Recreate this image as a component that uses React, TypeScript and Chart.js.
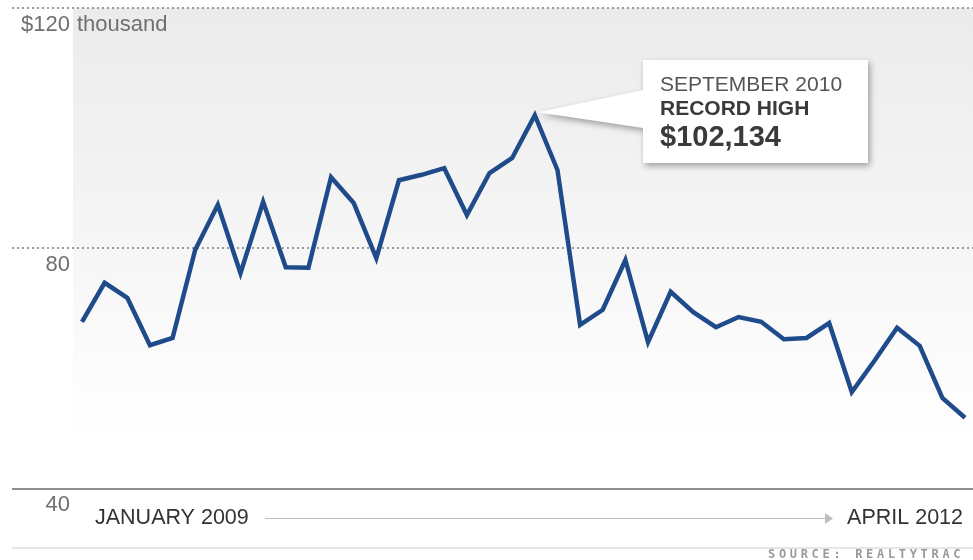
import React, { useEffect, useRef } from "react";
import { Chart, registerables } from "chart.js";

Chart.register(...registerables);

const months: string[] = [
  "Jan 2009", "Feb 2009", "Mar 2009", "Apr 2009", "May 2009", "Jun 2009",
  "Jul 2009", "Aug 2009", "Sep 2009", "Oct 2009", "Nov 2009", "Dec 2009",
  "Jan 2010", "Feb 2010", "Mar 2010", "Apr 2010", "May 2010", "Jun 2010",
  "Jul 2010", "Aug 2010", "Sep 2010", "Oct 2010", "Nov 2010", "Dec 2010",
  "Jan 2011", "Feb 2011", "Mar 2011", "Apr 2011", "May 2011", "Jun 2011",
  "Jul 2011", "Aug 2011", "Sep 2011", "Oct 2011", "Nov 2011", "Dec 2011",
  "Jan 2012", "Feb 2012", "Mar 2012", "Apr 2012",
];

// Average price, $ thousand
const prices: number[] = [
  67.7, 74.2, 71.7, 63.8, 65.0, 79.7, 87.2, 75.8, 87.7, 76.8, 76.7, 91.8,
  87.5, 78.3, 91.3, 92.2, 93.3, 85.5, 92.5, 95.0, 102.134, 93.0, 67.2, 69.7,
  78.0, 64.3, 72.7, 69.3, 66.8, 68.5, 67.7, 64.8, 65.0, 67.5, 56.0, 61.2,
  66.7, 63.7, 55.0, 51.7,
];

const yTicks: number[] = [120, 80, 40];
const yTickLabels: string[] = ["$120", "80", "40"];
const yUnit = "thousand";
const startLabel = "JANUARY 2009";
const endLabel = "APRIL 2012";
const sourceText = "SOURCE: REALTYTRAC";
const peakIndex = 20;
const calloutLines: string[] = ["SEPTEMBER 2010", "RECORD HIGH", "$102,134"];

const FONT = "'Liberation Sans', Arial, sans-serif";

const decorPlugin = {
  id: "decor",
  beforeDatasetsDraw(chart: any) {
    const ctx = chart.ctx as CanvasRenderingContext2D;
    const y = chart.scales.y;
    const W = chart.width;
    const area = chart.chartArea;
    ctx.save();
    const top = y.getPixelForValue(120);
    const bot = y.getPixelForValue(40);
    const g = ctx.createLinearGradient(0, top, 0, bot);
    g.addColorStop(0, "#ebebeb");
    g.addColorStop(0.5, "#f6f6f6");
    g.addColorStop(0.9, "#ffffff");
    g.addColorStop(1, "#ffffff");
    ctx.fillStyle = g;
    ctx.fillRect(area.left - 9, top, W - (area.left - 9), bot - top);

    yTicks.forEach((v, i) => {
      const py = Math.round(y.getPixelForValue(v));
      if (v === 40) {
        ctx.strokeStyle = "#8f8f8f";
        ctx.lineWidth = 2;
        ctx.beginPath();
        ctx.moveTo(12, py + 1);
        ctx.lineTo(W, py + 1);
        ctx.stroke();
      } else {
        ctx.fillStyle = "#9a9a9a";
        for (let x = 12; x < W; x += 5) {
          ctx.fillRect(x, py - 1, 2, 2);
        }
      }
      ctx.fillStyle = "#707070";
      ctx.font = `22px ${FONT}`;
      ctx.textBaseline = "middle";
      ctx.textAlign = "right";
      ctx.fillText(yTickLabels[i], 70, py + 17);
      if (i === 0) {
        ctx.textAlign = "left";
        ctx.fillText(yUnit, 77, py + 17);
      }
    });

    ctx.strokeStyle = "#e6e6e6";
    ctx.lineWidth = 2;
    ctx.beginPath();
    ctx.moveTo(12, 548);
    ctx.lineTo(W, 548);
    ctx.stroke();

    ctx.fillStyle = "#333333";
    ctx.font = `21.5px ${FONT}`;
    ctx.textBaseline = "middle";
    ctx.textAlign = "left";
    ctx.fillText(startLabel, 95, 518);
    ctx.textAlign = "right";
    ctx.fillText(endLabel, 963, 518);
    ctx.strokeStyle = "#bdbdbd";
    ctx.lineWidth = 1;
    ctx.beginPath();
    ctx.moveTo(265, 518.5);
    ctx.lineTo(827, 518.5);
    ctx.stroke();
    ctx.fillStyle = "#bdbdbd";
    ctx.beginPath();
    ctx.moveTo(825, 513);
    ctx.lineTo(833, 518.5);
    ctx.lineTo(825, 524);
    ctx.closePath();
    ctx.fill();

    ctx.fillStyle = "#999999";
    ctx.font = `bold 12px 'DejaVu Sans Mono', monospace`;
    ctx.textAlign = "left";
    for (let k = 0; k < sourceText.length; k++) {
      ctx.fillText(sourceText[k], 768 + k * 10.9, 555);
    }
    ctx.restore();
  },
  afterDatasetsDraw(chart: any) {
    const ctx = chart.ctx as CanvasRenderingContext2D;
    const meta = chart.getDatasetMeta(0);
    const pt = meta.data[peakIndex];
    const px = pt.x + 3;
    const py = pt.y - 3;
    const bx = 643, by = 60, bw = 225, bh = 103;
    ctx.save();
    ctx.shadowColor = "rgba(0,0,0,0.35)";
    ctx.shadowBlur = 6;
    ctx.shadowOffsetX = 2;
    ctx.shadowOffsetY = 3;
    ctx.fillStyle = "#ffffff";
    ctx.beginPath();
    ctx.moveTo(bx, by);
    ctx.lineTo(bx + bw, by);
    ctx.lineTo(bx + bw, by + bh);
    ctx.lineTo(bx, by + bh);
    ctx.lineTo(bx, 128);
    ctx.lineTo(px, py);
    ctx.lineTo(bx, 90);
    ctx.closePath();
    ctx.fill();
    ctx.restore();

    ctx.save();
    ctx.textAlign = "left";
    ctx.textBaseline = "middle";
    ctx.fillStyle = "#555555";
    ctx.font = `21px ${FONT}`;
    ctx.fillText(calloutLines[0], 660, 85);
    ctx.fillStyle = "#3a3a3a";
    ctx.font = `bold 21px ${FONT}`;
    ctx.fillText(calloutLines[1], 660, 109);
    ctx.font = `bold 29px ${FONT}`;
    ctx.fillText(calloutLines[2], 660, 138);
    ctx.restore();
  },
};

export default function App() {
  const ref = useRef<HTMLCanvasElement | null>(null);
  useEffect(() => {
    if (!ref.current) return;
    const chart = new Chart(ref.current, {
      type: "line",
      data: {
        labels: months,
        datasets: [
          {
            data: prices,
            borderColor: "#1f4b8b",
            borderWidth: 4.5,
            pointRadius: 0,
            tension: 0,
            fill: false,
            borderJoinStyle: "miter",
          },
        ],
      },
      options: {
        animation: false,
        responsive: false,
        devicePixelRatio: 1,
        layout: { padding: { left: 82, right: 8, top: 8, bottom: 72 } },
        plugins: { legend: { display: false }, tooltip: { enabled: false } },
        scales: {
          x: { type: "category", display: false, offset: false },
          y: { min: 40, max: 120, display: false },
        },
      },
      plugins: [decorPlugin],
    });
    return () => chart.destroy();
  }, []);
  return (
    <div style={{ position: "absolute", left: 0, top: 0, width: 973, height: 560, background: "#fff" }}>
      <canvas ref={ref} width={973} height={560} style={{ width: 973, height: 560 }} />
    </div>
  );
}
